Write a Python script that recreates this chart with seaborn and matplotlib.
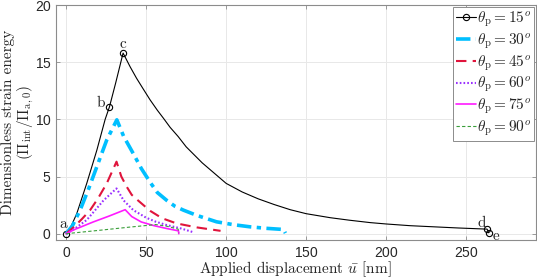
import numpy as np
import pandas as pd
import matplotlib
matplotlib.use('Agg')
import matplotlib.pyplot as plt
import seaborn as sns

# values
u_15 = [0, 3, 6.7, 12.9, 19.2, 24.4, 27.1, 31, 35.6, 40, 44, 48, 52.5, 57, 60.8, 65, 70, 75,
        80, 85, 90, 95, 100, 110, 120, 130, 140, 150, 165, 177, 190, 200, 215, 230, 245, 263, 264]
e_15 = [0, 0.6, 1.77, 4.4, 7.3, 10.0, 11.1, 13.2, 15.8, 14.6, 13.6, 12.7, 11.7, 10.8, 10.1, 9.3,
        8.5, 7.6, 6.9, 6.2, 5.6, 5.0, 4.4, 3.65, 3.05, 2.55, 2.1, 1.75, 1.4, 1.18, 0.97, 0.85,
        0.7, 0.6, 0.5, 0.4, 0.08]
marks_15 = [0, 6, 8, 35, 36]   # points a, b, c, d, e

u_30 = [0, 4, 8.75, 14, 19.2, 25.4, 31.7, 36, 42, 47, 52.5, 57, 63, 68, 73.3, 81.7, 94, 105,
        115, 125, 135.8, 137]
e_30 = [0, 0.7, 2.06, 3.9, 5.86, 8.2, 9.96, 8.5, 7.0, 5.7, 4.5, 3.6, 2.9, 2.4, 2.06, 1.6,
        1.04, 0.78, 0.6, 0.47, 0.37, 0.05]

u_45 = [0, 5, 10, 15, 20, 25.4, 31.5, 34.5, 37.9, 41, 45, 52.5, 60, 69, 81.7, 96.5]
e_45 = [0, 0.6, 1.3, 2.06, 3.1, 4.4, 6.3, 5.0, 4.1, 3.4, 2.9, 2.0, 1.35, 0.9, 0.55, 0.25]

u_60 = [0, 5, 12.9, 23.3, 31.5, 36, 42, 50, 56, 63, 72, 79]
e_60 = [0, 0.4, 1.2, 2.9, 3.96, 2.9, 2.06, 1.4, 1.05, 0.75, 0.45, 0.15]

u_75 = [0, 5, 17, 27, 36.9, 41, 46.9, 55, 63, 70.2, 70.4]
e_75 = [0, 0.35, 1.03, 1.55, 2.1, 1.5, 1.03, 0.7, 0.45, 0.25, 0.0]

u_90 = [0, 21, 40, 52.5, 56, 63, 70, 70.5]
e_90 = [0, 0.3, 0.58, 0.75, 0.8, 0.65, 0.4, 0.05]

point_names = ['a', 'b', 'c', 'd', 'e']
point_text_u = [-1.5, 21.8, 35.4, 259.5, 268.5]
point_text_e = [0.85, 11.4, 16.6, 0.95, -0.2]

angles = [15, 30, 45, 60, 75, 90]

sns.set_style('whitegrid')
plt.rcParams['mathtext.fontset'] = 'cm'
plt.rcParams['font.family'] = ['cmr10', 'DejaVu Serif']
plt.rcParams['axes.formatter.use_mathtext'] = True

fig = plt.figure(figsize=(5.37, 2.8), dpi=100)
ax = fig.add_axes([0.1037, 0.1429, 0.8943, 0.8391])

styles = [
    dict(color='black', linestyle='-', linewidth=0.8, marker='o', markersize=4.5,
         markerfacecolor='none', markeredgecolor='black', markeredgewidth=0.8, markevery=marks_15),
    dict(color='#00bfff', linestyle=(0, (4, 1.5, 1.2, 1.5)), linewidth=2.6),
    dict(color='#e0143c', linestyle=(0, (5, 3)), linewidth=1.5),
    dict(color='#9a30ff', linestyle=(0, (0.8, 1.0)), linewidth=1.5),
    dict(color='#ff1aff', linestyle='-', linewidth=1.2),
    dict(color='#3a9e3a', linestyle=(0, (3, 2)), linewidth=0.8),
]
xs = [u_15, u_30, u_45, u_60, u_75, u_90]
ys = [e_15, e_30, e_45, e_60, e_75, e_90]
for ang, x, y, st in zip(angles, xs, ys, styles):
    sns.lineplot(x=x, y=y, ax=ax, sort=False, estimator=None,
                 label=r'$\theta_{\rm p} = %d^o$' % ang, **st)

for name, tx, ty in zip(point_names, point_text_u, point_text_e):
    ax.text(tx, ty, name, fontsize=11, ha='center', va='center', family=['cmr10'])

ax.set_xlim(-6.5, 293.5)
ax.set_ylim(-0.55, 20)
ax.set_xticks([0, 50, 100, 150, 200, 250])
ax.set_yticks([0, 5, 10, 15, 20])
ax.grid(True, color='#e8e8e8', linewidth=0.7)
for sp in ax.spines.values():
    sp.set_color('#8c8c8c')
    sp.set_linewidth(0.8)
ax.tick_params(direction='in', length=3, width=0.6, color='#8c8c8c',
               top=True, right=True, bottom=True, left=True, labelsize=10, pad=4)
ax.tick_params(axis='y', pad=3)
for lab in ax.get_xticklabels() + ax.get_yticklabels():
    lab.set_family(['Liberation Sans', 'DejaVu Sans'])
    lab.set_color('#262626')

ax.set_xlabel(r'Applied displacement $\bar{u}$ [nm]', fontsize=11, labelpad=0)
ax.set_ylabel('Dimensionless strain energy\n' + r'$(\Pi_{\rm int}/\Pi_{\rm a,0})$',
              fontsize=11, linespacing=1.0)
ax.yaxis.set_label_coords(-0.042, 0.5)

leg = ax.legend(loc='upper right', fontsize=11, frameon=True, fancybox=False,
                borderaxespad=0.1, handlelength=1.3, handletextpad=0.1,
                labelspacing=0.15, borderpad=0.2)
leg.get_frame().set_edgecolor('#8c8c8c')
leg.get_frame().set_linewidth(0.7)
leg.get_frame().set_alpha(1)

fig.savefig('out.png', dpi=100)
